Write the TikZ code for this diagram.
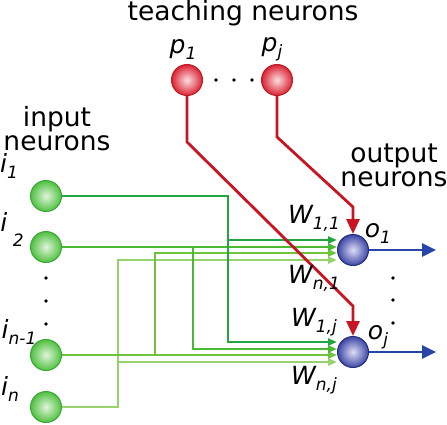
\documentclass[tikz,border=0pt]{standalone}
\usepackage{fontspec}
\setmainfont{DejaVu Sans}
\usetikzlibrary{arrows.meta}

\definecolor{wA}{RGB}{35,165,65}
\definecolor{wB}{RGB}{75,185,50}
\definecolor{wC}{RGB}{110,195,60}
\definecolor{wD}{RGB}{150,210,110}
\definecolor{teachred}{RGB}{200,20,35}
\definecolor{outblue}{RGB}{40,70,170}

\newcommand{\subsz}{\fontsize{17}{17}\selectfont}
\newcommand{\sublbl}[2]{#1\raisebox{-6pt}{\subsz #2}}

\tikzset{
  neuron/.style={circle, minimum size=31pt, inner sep=0pt, line width=1pt, shading=radial},
  inneuron/.style={neuron, draw={rgb,255:red,55;green,170;blue,50}, inner color={rgb,255:red,225;green,245;blue,220}, outer color={rgb,255:red,80;green,192;blue,65}},
  teachneuron/.style={neuron, draw={rgb,255:red,190;green,25;blue,35}, inner color={rgb,255:red,252;green,222;blue,225}, outer color={rgb,255:red,218;green,35;blue,50}},
  outneuron/.style={neuron, draw={rgb,255:red,35;green,45;blue,120}, inner color={rgb,255:red,222;green,222;blue,245}, outer color={rgb,255:red,60;green,70;blue,165}},
  link/.style={line width=2.8pt, -{Triangle[length=9pt,width=7pt]}},
  teach/.style={line width=2.8pt, teachred, -{Triangle[length=15pt,width=13pt]}},
  outarr/.style={line width=2.8pt, outblue, -{Triangle[length=14pt,width=13pt]}},
  lbl/.style={inner sep=0pt, font=\fontsize{25}{25}\selectfont\itshape},
  title/.style={inner sep=0pt, align=center, font=\fontsize{26.5}{24}\selectfont}
}

\begin{document}
\begin{tikzpicture}[x=1pt, y=-1pt]
\useasboundingbox (0,0) rectangle (447,424);

\node[inneuron] (i1) at (46,196) {};
\node[inneuron] (i2) at (46,247) {};
\node[inneuron] (in1) at (46,355) {};
\node[inneuron] (in) at (46,407) {};
\node[teachneuron] (p1) at (187,80) {};
\node[teachneuron] (pj) at (277,80) {};
\node[outneuron] (o1) at (353,250) {};
\node[outneuron] (oj) at (353,352) {};
\coordinate (y1) at (436,250);
\coordinate (yj) at (436,352);

\draw[link, wD] (in) -- (118,407) |- ([yshift=-10pt]o1.west);
\draw[link, wD] (in) -- (118,407) |- ([yshift=-10pt]oj.west);
\draw[link, wC] (in1) -- ([yshift=-3pt]oj.west);
\draw[link, wC] (in1) -- (155,355) |- ([yshift=-3pt]o1.west);
\draw[link, wB] (i2) -- ([yshift=3pt]o1.west);
\draw[link, wB] (i2) -- (193,247) |- ([yshift=3pt]oj.west);
\draw[link, wA] (i1) -- (228,196) |- ([yshift=10pt]o1.west);
\draw[link, wA] (i1) -- (228,196) |- ([yshift=10pt]oj.west);

\draw[teach] (p1) -- (187,142) -- (353,306) -- (oj);
\draw[teach] (pj) -- (277,137) -- (353,207) -- (o1);
\draw[outarr] (o1) -- (y1);
\draw[outarr] (oj) -- (yj);

\fill (46,278) circle (1.8) (46,301) circle (1.8) (46,324) circle (1.8);
\fill (216,80) circle (1.8) (234,80) circle (1.8) (252,80) circle (1.8);
\fill (393,278) circle (1.8) (393,300) circle (1.8) (393,323) circle (1.8);

\node[title, anchor=base] (tteach) at (243,20) {teaching neurons};
\node[title] (tin) at (57,129) {input\\neurons};
\node[title] (tout) at (394,165) {output\\neurons};

\node[lbl] (lp1) at (183,49) {\sublbl{p}{1}};
\node[lbl] (lpj) at (272,49) {\sublbl{p}{j}};
\node[lbl] (li1) at (9,166) {\sublbl{i}{1}};
\node[lbl] (li2) at (12,229) {i\raisebox{-15pt}{\subsz\ 2}};
\node[lbl] (lin1) at (19,332) {\sublbl{i}{n-1}};
\node[lbl] (lin) at (10,389) {\sublbl{i}{n}};
\node[lbl] (lw11) at (314,218) {\sublbl{W}{1,1}};
\node[lbl] (lwn1) at (314,278) {\sublbl{W}{n,1}};
\node[lbl] (lw1j) at (314,322) {\sublbl{W}{1,j}};
\node[lbl] (lwnj) at (314,380) {\sublbl{W}{n,j}};
\node[lbl] (lo1) at (378,233) {\sublbl{o}{1}};
\node[lbl] (loj) at (378,337) {\sublbl{o}{j}};
\end{tikzpicture}
\end{document}
